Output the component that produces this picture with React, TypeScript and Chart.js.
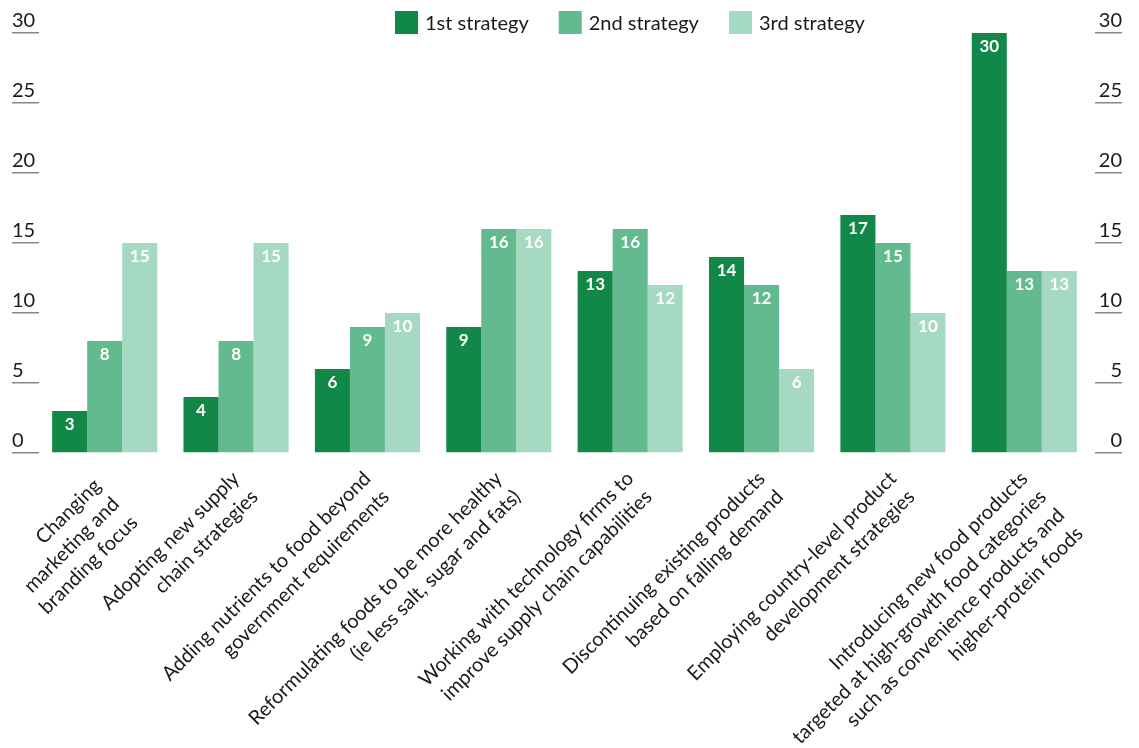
import React, { useEffect, useRef } from "react";
import { Chart, registerables } from "chart.js";

Chart.register(...registerables);

const NB = "\u00a0\u00a0";

const categories: string[][] = [
  ["Changing" + NB, "marketing and" + NB, "branding focus" + NB],
  ["Adopting new supply", "chain strategies"],
  ["Adding nutrients to food beyond", "government requirements"],
  ["Reformulating foods to be more healthy", "(ie less salt, sugar and fats)"],
  ["Working with technology firms to", "improve supply chain capabilities"],
  ["Discontinuing existing products", "based on falling demand"],
  ["Employing country-level product", "development strategies"],
  [
    "Introducing new food products",
    "targeted at high-growth food categories",
    "such as convenience products and",
    "higher-protein foods",
  ],
];

const firstStrategy = [3, 4, 6, 9, 13, 14, 17, 30];
const secondStrategy = [8, 8, 9, 16, 16, 12, 15, 13];
const thirdStrategy = [15, 15, 10, 16, 12, 6, 10, 13];

const seriesNames = ["1st strategy", "2nd strategy", "3rd strategy"];
const seriesColors = ["#118847", "#62ba8e", "#a6d9c2"];

const yMin = 0;
const yMax = 30;
const yStep = 5;

const FONT = "Lato, 'Noto Sans', sans-serif";
const TEXT = "#1a1a1a";

const valueLabelPlugin = {
  id: "valueLabels",
  afterDatasetsDraw(chart: any) {
    const ctx = chart.ctx;
    ctx.save();
    ctx.fillStyle = "#ffffff";
    ctx.font = `bold 17px ${FONT}`;
    ctx.textAlign = "center";
    ctx.textBaseline = "middle";
    chart.data.datasets.forEach((ds: any, di: number) => {
      const meta = chart.getDatasetMeta(di);
      meta.data.forEach((el: any, i: number) => {
        ctx.fillText(String(ds.data[i]), el.x, el.y + 13.5);
      });
    });
    ctx.restore();
  },
};

const legendPlugin = {
  id: "topLegend",
  afterDraw(chart: any) {
    const ctx = chart.ctx;
    ctx.save();
    ctx.font = `20px ${FONT}`;
    ctx.textBaseline = "middle";
    ctx.textAlign = "left";
    const box = 23;
    const top = 11;
    let x = 395;
    chart.data.datasets.forEach((ds: any) => {
      ctx.fillStyle = ds.backgroundColor;
      ctx.fillRect(x, top, box, box);
      ctx.fillStyle = TEXT;
      ctx.fillText(ds.label, x + box + 7, top + box / 2 + 1);
      x += box + 7 + ctx.measureText(ds.label).width + 30;
    });
    ctx.restore();
  },
};

const yAxisCommon = (position: "left" | "right") => ({
  position,
  min: yMin,
  max: yMax,
  weight: 1,
  ticks: {
    stepSize: yStep,
    crossAlign: "far" as const,
    labelOffset: -12,
    padding: 0,
    color: TEXT,
    font: { family: FONT, size: 20 },
  },
  grid: {
    drawOnChartArea: false,
    drawTicks: true,
    tickLength: 27,
    color: "#888888",
    lineWidth: 1.5,
  },
  border: { display: false },
  afterFit: (s: any) => {
    s.width = 27;
  },
});

export default function App() {
  const canvasRef = useRef<HTMLCanvasElement | null>(null);

  useEffect(() => {
    document.body.style.margin = "0";
    if (!canvasRef.current) return;
    const chart = new Chart(canvasRef.current, {
      type: "bar",
      data: {
        labels: categories,
        datasets: [firstStrategy, secondStrategy, thirdStrategy].map((d, i) => ({
          label: seriesNames[i],
          data: d,
          backgroundColor: seriesColors[i],
          borderWidth: 0,
          categoryPercentage: 0.8,
          barPercentage: 1.0,
        })),
      },
      options: {
        animation: false,
        responsive: true,
        maintainAspectRatio: false,
        layout: { padding: { top: 33, left: 12, right: 17, bottom: 0 } },
        plugins: {
          legend: { display: false },
          tooltip: { enabled: false },
        },
        scales: {
          x: {
            grid: { display: false, drawTicks: false },
            border: { display: false },
            ticks: {
              autoSkip: false,
              minRotation: 45,
              maxRotation: 45,
              padding: 13,
              color: TEXT,
              font: { family: FONT, size: 20, lineHeight: "26px" },
            },
            afterFit: (s: any) => {
              s.height = 295;
              s.paddingLeft = 0;
              s.paddingRight = 0;
            },
          },
          y: yAxisCommon("left"),
          yGap: {
            type: "linear",
            position: "right",
            weight: 0,
            display: true,
            ticks: { display: false },
            grid: { display: false },
            border: { display: false },
            afterFit: (s: any) => {
              s.width = 5;
            },
          },
          y2: yAxisCommon("right"),
        },
      } as any,
      plugins: [valueLabelPlugin, legendPlugin],
    });
    return () => chart.destroy();
  }, []);

  return (
    <div style={{ width: 1139, height: 748, position: "relative" }}>
      <canvas ref={canvasRef} />
    </div>
  );
}
